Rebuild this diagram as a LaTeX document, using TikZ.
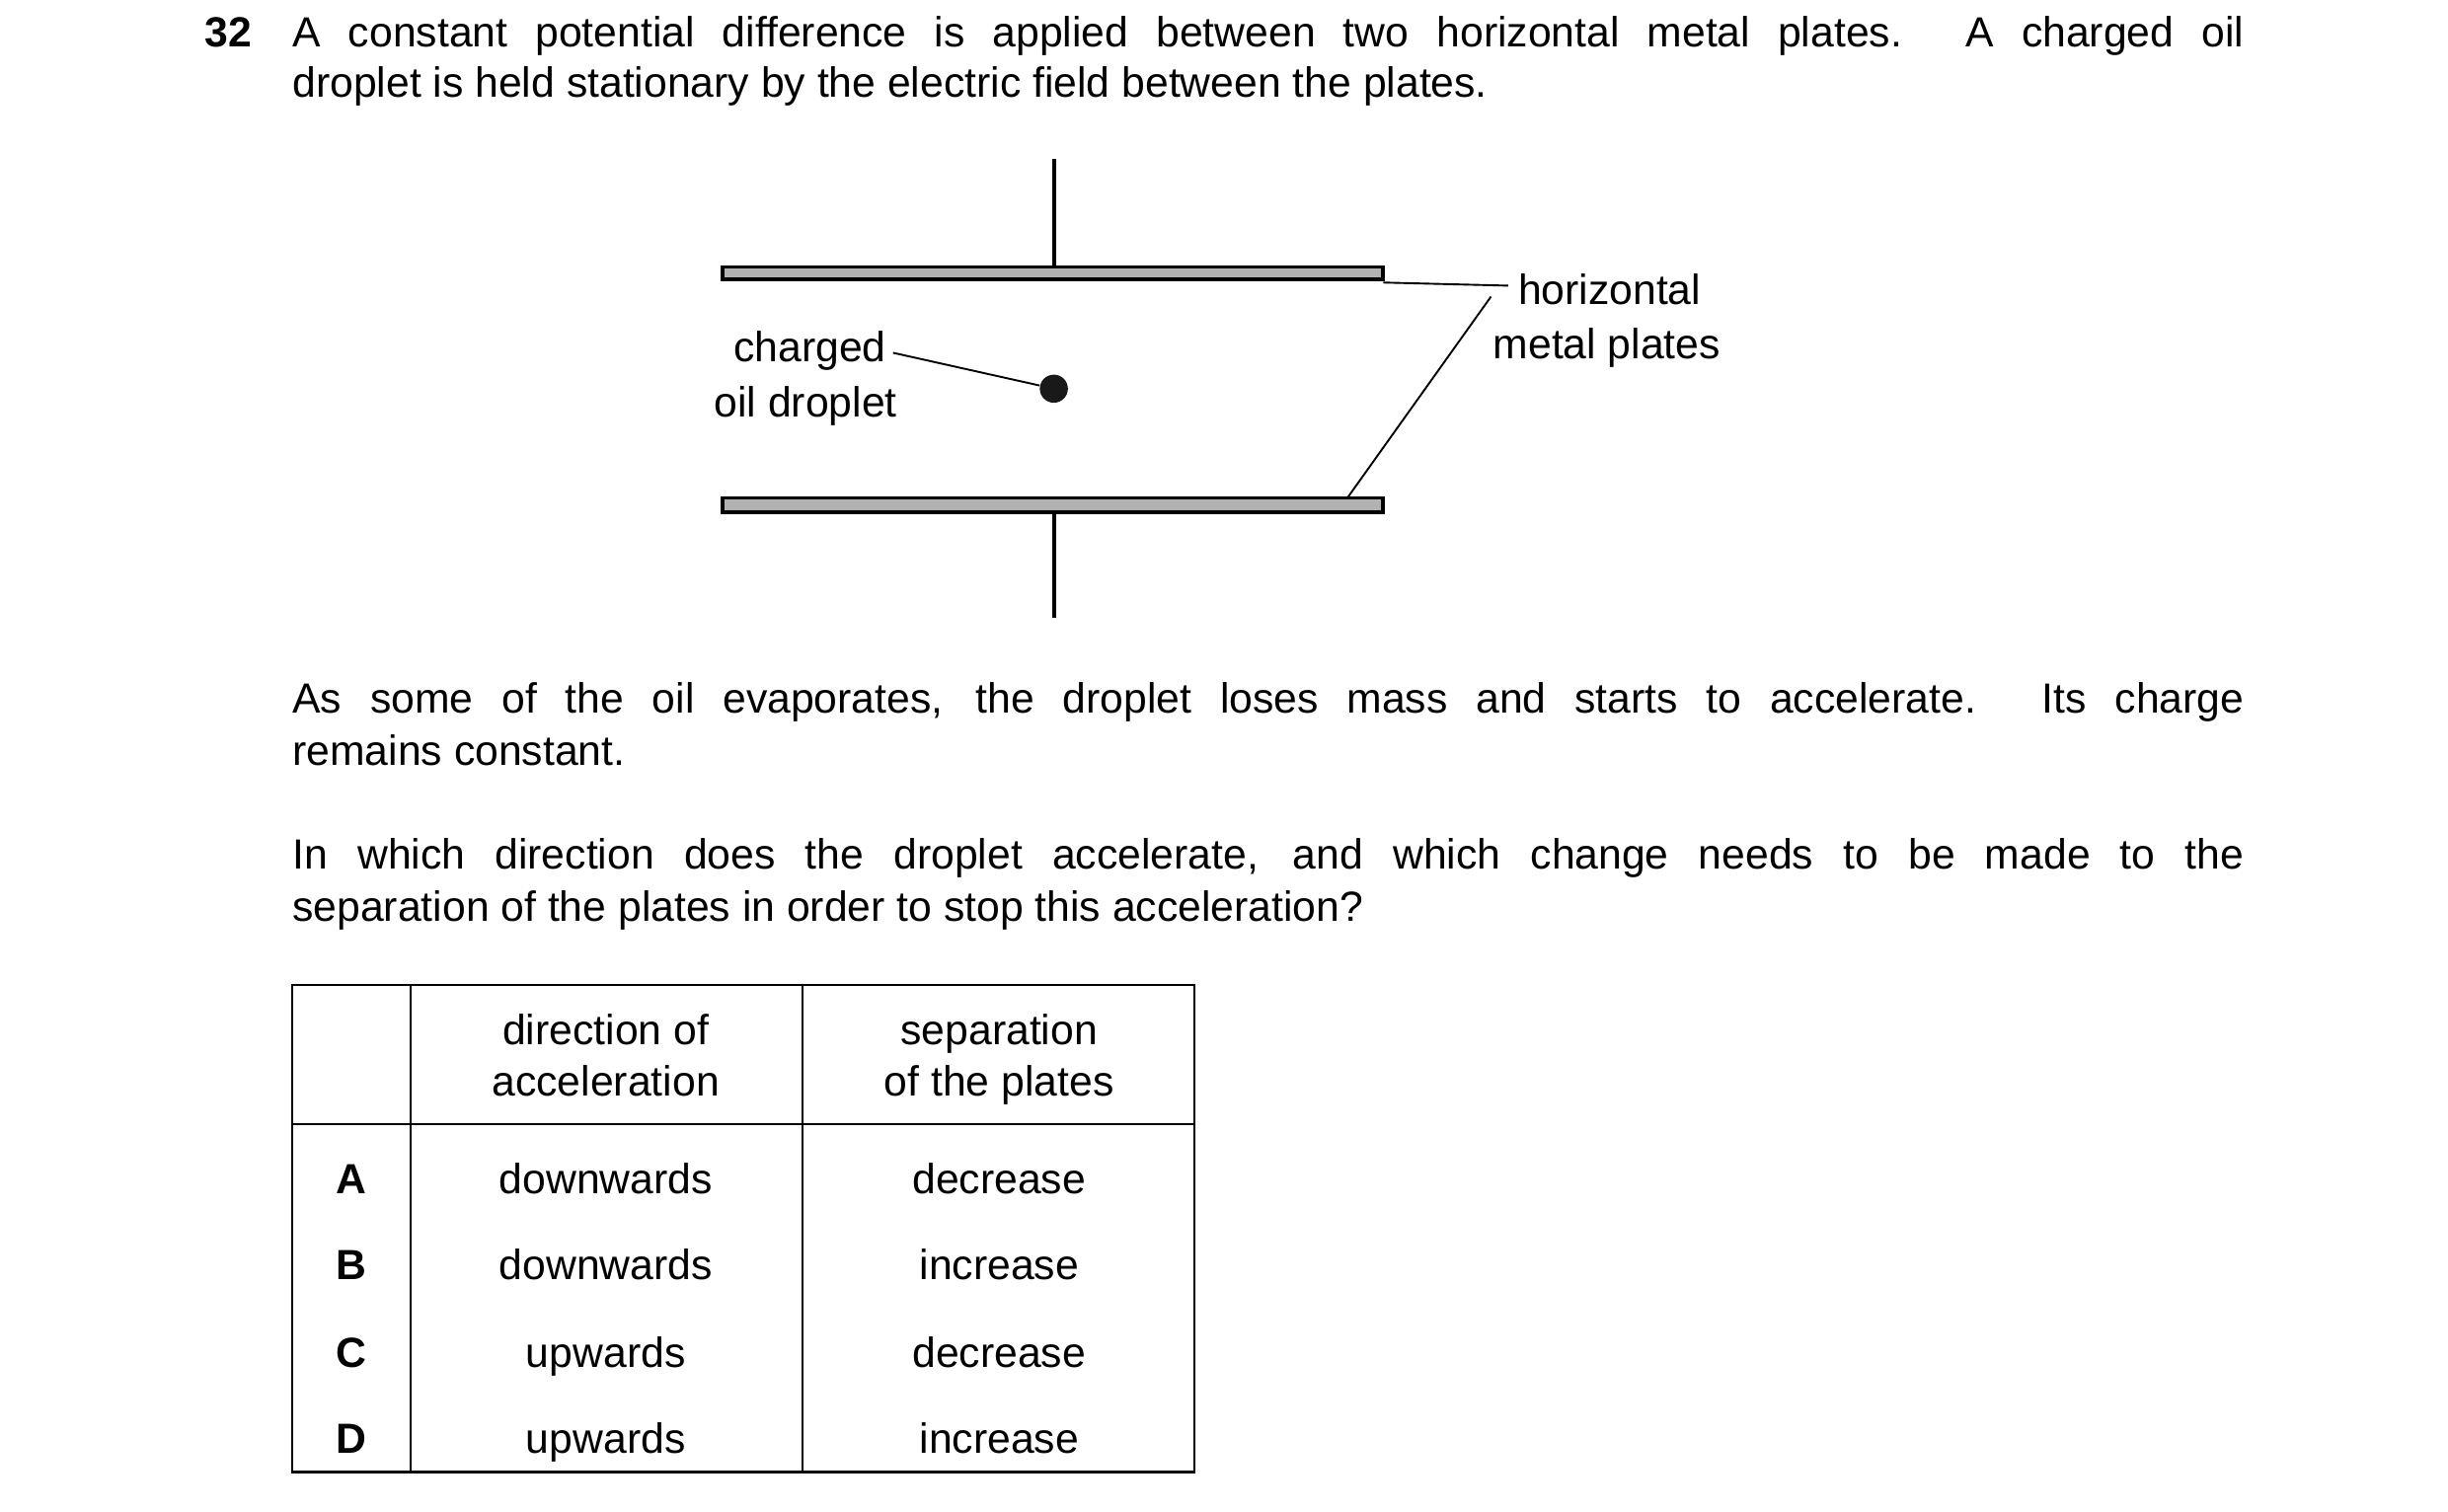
\documentclass[tikz,border=0pt]{standalone}
\usepackage{fontspec}
\setmainfont{Liberation Sans}
\begin{document}
\begin{tikzpicture}[x=0.5pt,y=-0.5pt,
  txt/.style={font=\fontsize{13.5}{16.5}\selectfont,inner sep=0pt},
  ln/.style={anchor=base west,txt},
  plate/.style={draw=black,fill=black!30,line width=1.2pt},
  thin/.style={line width=0.6pt},
  tab/.style={line width=0.8pt}]
\useasboundingbox (0,0) rectangle (1568,968);
% question
\node[ln,font=\fontsize{13.5}{16.5}\selectfont\bfseries] (num) at (131,30) {32};
\node[ln] (l1) at (187,30) {\makebox[625pt][s]{A constant potential difference is applied between two horizontal metal plates. A charged oil}};
\node[ln] (l2) at (187,62) {droplet is held stationary by the electric field between the plates.};
% plates
\draw[plate] (463,171) rectangle (886,179);
\draw[plate] (463,319) rectangle (886,328);
\coordinate (t1) at (675,102); \coordinate (t2) at (675,171);
\coordinate (b1) at (675,328); \coordinate (b2) at (675,396);
\draw[line width=1.2pt] (t1) -- (t2);
\draw[line width=1.2pt] (b1) -- (b2);
\node[circle,fill=black!90,minimum size=18pt*0.5*2/2*1,inner sep=0pt] (drop) at (675,249) {};
\node[txt,anchor=base east] (ch) at (568,232) {charged};
\node[txt,anchor=base] (oil) at (516,267) {oil droplet};
\coordinate (d1) at (572,226);
\draw[thin] (d1) -- (drop);
\node[ln] (hz) at (972,195) {horizontal};
\node[ln] (mp) at (956,230) {metal plates};
\coordinate (p1) at (886,181); \coordinate (p2) at (966,183);
\coordinate (p3) at (863,319); \coordinate (p4) at (955,190);
\draw[thin] (p1) -- (p2);
\draw[thin] (p3) -- (p4);
% paragraphs
\node[ln] (a1) at (187,457) {\makebox[625pt][s]{As some of the oil evaporates, the droplet loses mass and starts to accelerate. Its charge}};
\node[ln] (a2) at (187,490) {remains constant.};
\node[ln] (b1t) at (187,557) {\makebox[625pt][s]{In which direction does the droplet accelerate, and which change needs to be made to the}};
\node[ln] (b2t) at (187,590) {separation of the plates in order to stop this acceleration?};
% table
\draw[tab] (187,631) rectangle (765,943);
\draw[tab] (187,720) -- (765,720);
\draw[tab] (263,631) -- (263,943);
\draw[tab] (514,631) -- (514,943);
\node[txt,anchor=base] (h1) at (388,669) {direction of};
\node[txt,anchor=base] (h2) at (388,702) {acceleration};
\node[txt,anchor=base] (h3) at (640,669) {separation};
\node[txt,anchor=base] (h4) at (640,702) {of the plates};
\foreach \l/\d/\s/\y in {A/downwards/decrease/765,B/downwards/increase/820,C/upwards/decrease/876,D/upwards/increase/931}{
  \node[txt,anchor=base,font=\fontsize{13.5}{16.5}\selectfont\bfseries] (r\l) at (225,\y) {\l};
  \node[txt,anchor=base] (d\l) at (388,\y) {\d};
  \node[txt,anchor=base] (s\l) at (640,\y) {\s};
}
\end{tikzpicture}
\end{document}
